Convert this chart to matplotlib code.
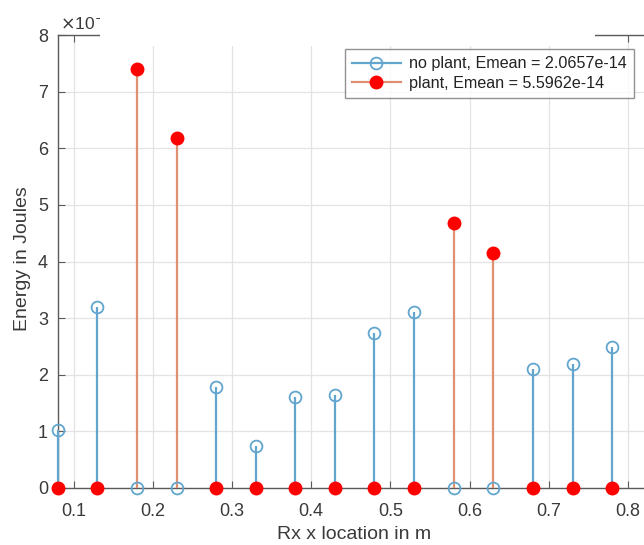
import matplotlib
matplotlib.use("Agg")
import matplotlib.pyplot as plt
from matplotlib.patches import Rectangle
from matplotlib.lines import Line2D

plt.rcParams['font.family'] = ['Liberation Sans', 'DejaVu Sans']

# Data (energy in units of 1e-14 J)
x_loc = [0.08, 0.13, 0.18, 0.23, 0.28, 0.33, 0.38, 0.43, 0.48, 0.53, 0.58, 0.63, 0.68, 0.73, 0.78]
no_plant = [1.02, 3.20, 0.0, 0.0, 1.78, 0.74, 1.60, 1.64, 2.74, 3.11, 0.0, 0.0, 2.10, 2.19, 2.49]
plant = [0.0, 0.0, 7.40, 6.18, 0.0, 0.0, 0.0, 0.0, 0.0, 0.0, 4.68, 4.15, 0.0, 0.0, 0.0]
xticks = [0.1, 0.2, 0.3, 0.4, 0.5, 0.6, 0.7, 0.8]
yticks = [0, 1, 2, 3, 4, 5, 6, 7, 8]
label_no = "no plant, Emean = 2.0657e-14"
label_pl = "plant, Emean = 5.5962e-14"

W, H = 644, 545
fig = plt.figure(figsize=(W / 100, H / 100), dpi=100)

ppu = 792.0
x0, x1 = 0.08, 0.85
left_px, top_px, bot_px = 57.7, 35, 488
ax = fig.add_axes([left_px / W, (H - bot_px) / H, (x1 - x0) * ppu / W, (bot_px - top_px) / H])

blue = '#62a6cf'
orange = '#de9070'
red = '#ff0000'
spine_c = '#5a5a5a'
text_c = '#3a3a3a'

ax.set_xlim(x0, x1)
ax.set_ylim(0, 8)
ax.set_xticks(xticks)
ax.set_yticks(yticks)
ax.set_xticklabels([f"{t:g}" for t in xticks])
ax.set_yticklabels([f"{t:g}" for t in yticks])
ax.grid(True, color='#e3e3e3', linewidth=0.9)
ax.set_axisbelow(True)
for s in ax.spines.values():
    s.set_color(spine_c)
    s.set_linewidth(1.0)
ax.tick_params(direction='in', length=5, width=0.8, color=spine_c, top=True, right=True,
               labelsize=13, labelcolor=text_c)
ax.tick_params(axis='x', pad=11)
ax.tick_params(axis='y', pad=7)

# no plant stems
ax.vlines(x_loc, 0, no_plant, colors=blue, linewidth=1.6, zorder=3, clip_on=False)
ax.plot(x_loc, no_plant, linestyle='none', marker='o', markersize=8.5, markerfacecolor='none',
        markeredgecolor=blue, markeredgewidth=1.3, zorder=4, clip_on=False)
# plant stems
ax.vlines(x_loc, 0, plant, colors=orange, linewidth=1.6, zorder=3, clip_on=False)
ax.plot(x_loc, plant, linestyle='none', marker='o', markersize=9, markerfacecolor=red,
        markeredgecolor=red, zorder=5, clip_on=False)

# exponent label
fig.text(60 / W, (H - 30) / H, r'$\times$10$^{-14}$', fontsize=12.5, color=text_c, va='baseline', ha='left')

# axis labels
fig.text(354 / W, (H - 539) / H, 'Rx x location in m', fontsize=14, color=text_c, ha='center', va='baseline')
fig.text(23 / W, (H - 259) / H, 'Energy in Joules', fontsize=14, color=text_c, ha='center', va='center',
         rotation=90)

# legend
handles = [Line2D([], [], color=blue, linewidth=1.6, marker='o', markersize=8.5, markerfacecolor='none',
                  markeredgecolor=blue, markeredgewidth=1.3, markevery=[1]),
           Line2D([], [], color=orange, linewidth=1.6, marker='o', markersize=9, markerfacecolor=red,
                  markeredgecolor=red, markevery=[1])]
leg = fig.legend(handles, [label_no, label_pl], loc='upper left',
                 bbox_to_anchor=(345 / W, (H - 49) / H), frameon=True, fancybox=False,
                 edgecolor='#777777', fontsize=11.6, handlelength=3.0, handletextpad=0.55,
                 borderpad=0.45, labelspacing=0.3, borderaxespad=0)
leg.get_frame().set_linewidth(1.0)
for t in leg.get_texts():
    t.set_color('#222222')

# white area masking the top of the original image
fig.add_artist(Rectangle((100 / W, (H - 46) / H), (595 - 100) / W, 46 / H, transform=fig.transFigure,
                         facecolor='white', edgecolor='none', zorder=10))

fig.savefig('out.png', dpi=100)
